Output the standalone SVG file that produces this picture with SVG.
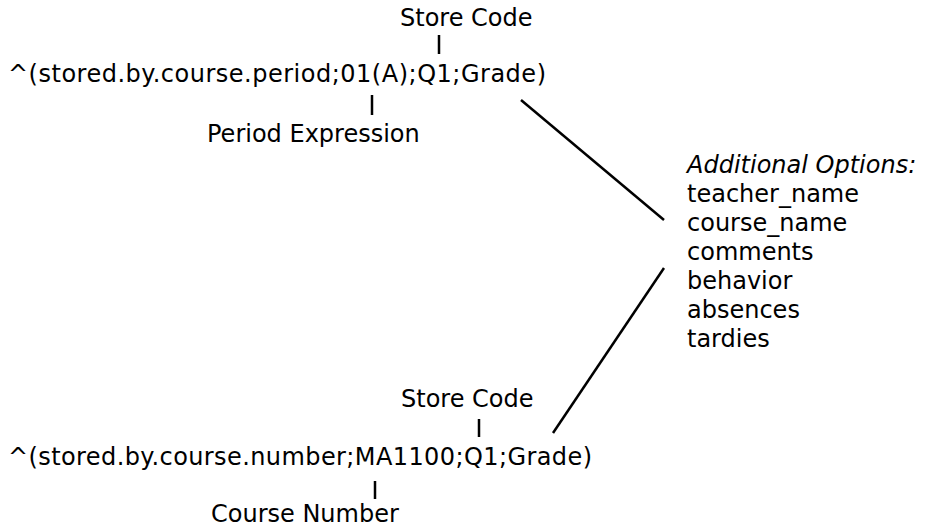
<svg xmlns="http://www.w3.org/2000/svg" width="936" height="528" viewBox="0 0 936 528">
<style>
text{font-family:Verdana,"DejaVu Sans",sans-serif;font-size:24px;fill:#000}
.it{font-style:italic}
line{stroke:#000;stroke-width:2.5}
</style>
<rect width="936" height="528" fill="#fff"/>
<g id="top-store-code"><text x="400" y="26">Store Code</text></g>
<g id="top-expr"><text x="8" y="82" textLength="538" lengthAdjust="spacing">^(stored.by.course.period;01(A);Q1;Grade)</text></g>
<g id="period-expression"><text x="207" y="142">Period Expression</text></g>
<g id="options">
<text x="687" y="173" class="it">Additional Options:</text>
<text x="687" y="202">teacher_name</text>
<text x="687" y="231">course_name</text>
<text x="687" y="260">comments</text>
<text x="687" y="289">behavior</text>
<text x="687" y="318">absences</text>
<text x="687" y="347">tardies</text>
</g>
<g id="bottom-store-code"><text x="401" y="407">Store Code</text></g>
<g id="bottom-expr"><text x="8" y="465" textLength="584" lengthAdjust="spacing">^(stored.by.course.number;MA1100;Q1;Grade)</text></g>
<g id="course-number"><text x="211" y="522">Course Number</text></g>
<g id="connectors">
<line x1="439" y1="35" x2="439" y2="54"/>
<line x1="372" y1="95" x2="372" y2="115"/>
<line x1="521" y1="100" x2="664" y2="220"/>
<line x1="553" y1="433" x2="664" y2="268"/>
<line x1="479" y1="419" x2="479" y2="437"/>
<line x1="375" y1="481" x2="375" y2="499"/>
</g>
</svg>
